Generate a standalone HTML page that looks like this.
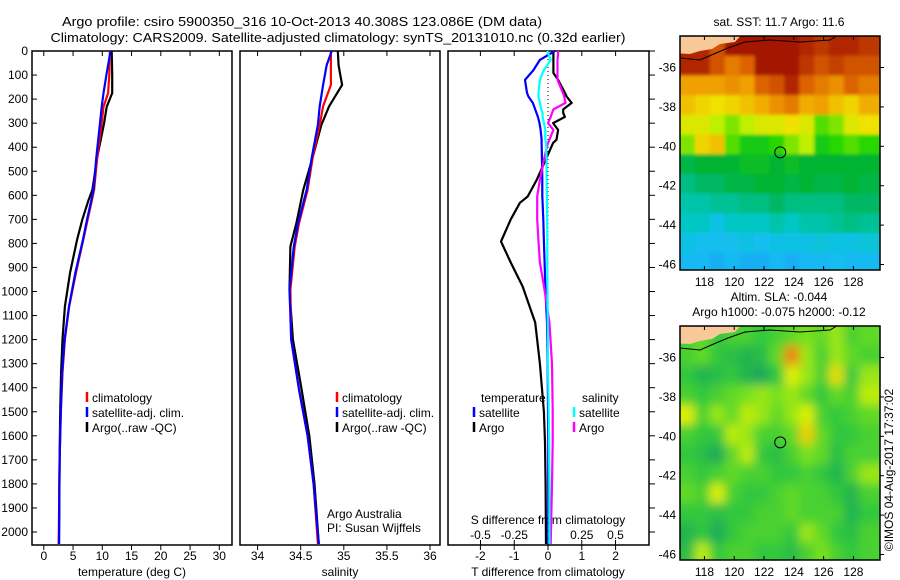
<!DOCTYPE html>
<html><head><meta charset="utf-8"><style>
html,body{margin:0;padding:0;background:#fff;}
svg{display:block;font-family:"Liberation Sans",sans-serif;}
text{font-size:12px;fill:#000;}
</style></head><body>
<svg id="c" width="900" height="580" viewBox="0 0 900 580" xmlns="http://www.w3.org/2000/svg">
<defs>
<clipPath id="cl1"><rect x="680" y="36" width="200" height="234"/></clipPath>
<clipPath id="cl2"><rect x="680" y="326" width="200" height="234"/></clipPath>
<filter id="bl" x="0" y="0" width="1" height="1"><feGaussianBlur stdDeviation="5"/></filter>
<filter id="bl1" x="0" y="0" width="1" height="1"><feGaussianBlur stdDeviation="1.5"/></filter>
</defs>
<text x="302" y="26" text-anchor="middle" textLength="480" lengthAdjust="spacingAndGlyphs" style="font-size:13px">Argo profile: csiro 5900350_316 10-Oct-2013 40.308S 123.086E (DM data)</text>
<text x="338" y="42" text-anchor="middle" textLength="575" lengthAdjust="spacingAndGlyphs" style="font-size:13px">Climatology: CARS2009. Satellite-adjusted climatology: synTS_20131010.nc (0.32d earlier)</text>
</svg>
<script>
// ---------- data ----------
const tDepth=[0,100,175,232,300,440,577,623,700,784,921,1062,1199,1336,1500,1700,2050];
const tArgo=[11.6,11.7,11.7,10.75,10.3,9.15,8.3,7.6,6.6,5.7,4.5,3.6,3.2,2.95,2.8,2.7,2.6];
const tClim=[11.3,11.2,11.0,10.2,9.9,9.15,8.6,8.2,7.5,6.75,5.5,4.35,3.6,3.2,2.9,2.7,2.55];
const tSat=[11.4,10.7,10.2,9.9,9.6,9.0,8.5,8.1,7.4,6.7,5.4,4.3,3.55,3.15,2.9,2.7,2.6];
const sDepth=[0,60,141,230,307,440,577,716,813,993,1199,1407,1600,1800,2050];
const sArgo=[34.93,34.94,34.98,34.83,34.74,34.64,34.53,34.45,34.38,34.37,34.41,34.51,34.6,34.66,34.71];
const sClim=[34.85,34.85,34.85,34.76,34.72,34.64,34.58,34.48,34.43,34.38,34.39,34.48,34.58,34.65,34.70];
const sSat=[34.86,34.80,34.76,34.72,34.70,34.63,34.57,34.47,34.42,34.37,34.39,34.48,34.58,34.65,34.71];
const dDepth=[0,37,79,91,120,174,189,216,243,258,274,300,328,369,382,440,535,605,631,700,792,880,979,1129,1300,1500,1627,1800,2050];
const dTArgo=[0.16,0.16,0.16,0.16,0.3,0.5,0.55,0.7,0.45,0.45,0.5,0.15,0.3,0.25,0.15,-0.03,-0.33,-0.6,-0.83,-1.1,-1.39,-1.1,-0.75,-0.38,-0.24,-0.12,-0.09,-0.07,-0.06];
const dTSat=[0.2,-0.24,-0.43,-0.5,-0.68,-0.62,-0.58,-0.45,-0.38,-0.34,-0.3,-0.25,-0.22,-0.19,-0.19,-0.18,-0.17,-0.17,-0.16,-0.14,-0.12,-0.1,-0.08,-0.03,-0.01,0.0,0.01,0.01,0.01];
const dSSat=[-0.005,0.02,-0.03,-0.04,-0.06,-0.07,-0.07,-0.06,-0.05,-0.04,-0.04,-0.03,-0.02,-0.02,-0.015,-0.01,-0.01,-0.008,-0.008,-0.006,-0.005,-0.005,-0.004,-0.002,0.0,0.005,0.008,0.01,0.01];
const dSArgo=[0.076,0.07,0.07,0.07,0.07,0.11,0.12,0.13,0.04,0.03,0.02,0.0,0.04,0.01,0.0,-0.025,-0.06,-0.08,-0.08,-0.08,-0.07,-0.06,-0.03,0.01,0.03,0.035,0.035,0.03,0.02];
const depthTicks=[0,100,200,300,400,500,600,700,800,900,1000,1100,1200,1300,1400,1500,1600,1700,1800,1900,2000];
const tTicks=[0,5,10,15,20,25,30];
const sTicks=[34,34.5,35,35.5,36];
const sTickLabels=["34","34.5","35","35.5","36"];
const dtTicks=[-2,-1,0,1,2];
const dsTicks=[-0.5,-0.25,0,0.25,0.5];
const dsTickLabels=["-0.5","-0.25","0","0.25","0.5"];
const lonTicks=[118,120,122,124,126,128];
const latTicks=[-36,-38,-40,-42,-44,-46];
const L=null;
const sstGrid=[
[L,L,L,0.97,0.97,0.97,0.97,0.97,0.95,0.93,0.95,0.95,0.93],
[0.95,0.95,0.9,0.85,0.88,0.97,0.97,0.97,0.93,0.9,0.92,0.9,0.9],
[0.8,0.8,0.8,0.82,0.8,0.88,0.9,0.95,0.88,0.85,0.82,0.88,0.85],
[0.75,0.72,0.7,0.72,0.75,0.78,0.82,0.85,0.78,0.8,0.75,0.72,0.78],
[0.68,0.68,0.65,0.62,0.65,0.68,0.68,0.7,0.68,0.6,0.62,0.68,0.7],
[0.62,0.72,0.75,0.6,0.55,0.55,0.58,0.62,0.65,0.55,0.58,0.6,0.58],
[0.48,0.5,0.5,0.5,0.52,0.52,0.5,0.52,0.5,0.5,0.5,0.5,0.5],
[0.42,0.45,0.45,0.48,0.48,0.5,0.5,0.48,0.5,0.48,0.48,0.5,0.48],
[0.38,0.38,0.4,0.4,0.42,0.42,0.45,0.42,0.42,0.42,0.42,0.45,0.45],
[0.35,0.35,0.3,0.35,0.35,0.35,0.38,0.35,0.38,0.38,0.4,0.42,0.4],
[0.3,0.28,0.28,0.28,0.3,0.28,0.3,0.3,0.3,0.32,0.3,0.3,0.32],
[0.27,0.27,0.25,0.27,0.25,0.25,0.27,0.25,0.27,0.27,0.28,0.27,0.27]];
const slaGrid=[
[L,L,L,0.45,0.45,0.4,0.45,0.5,0.55,0.5,0.6,0.45,0.5],
[0.45,0.5,0.4,0.35,0.3,0.35,0.5,0.95,0.6,0.45,0.6,0.5,0.45],
[0.4,0.3,0.35,0.4,0.3,0.25,0.4,0.7,0.6,0.45,0.75,0.4,0.6],
[0.45,0.4,0.45,0.5,0.55,0.6,0.55,0.6,0.5,0.4,0.5,0.45,0.65],
[0.7,0.45,0.6,0.5,0.65,0.6,0.5,0.6,0.7,0.45,0.4,0.45,0.5],
[0.45,0.4,0.4,0.65,0.6,0.45,0.45,0.5,0.8,0.5,0.4,0.4,0.45],
[0.4,0.35,0.25,0.5,0.65,0.4,0.35,0.45,0.55,0.5,0.35,0.45,0.45],
[0.45,0.4,0.45,0.5,0.45,0.45,0.4,0.4,0.45,0.4,0.3,0.45,0.6],
[0.5,0.45,0.7,0.45,0.4,0.4,0.45,0.5,0.45,0.45,0.4,0.3,0.45],
[0.4,0.4,0.35,0.4,0.4,0.45,0.45,0.5,0.45,0.45,0.45,0.3,0.4],
[0.3,0.4,0.25,0.4,0.45,0.45,0.45,0.4,0.6,0.5,0.4,0.35,0.45],
[0.35,0.65,0.4,0.45,0.45,0.4,0.4,0.35,0.45,0.55,0.45,0.4,0.45]];
const argoLon=123.086, argoLat=-40.308;

// ---------- helpers ----------
const svg=document.getElementById('c');
const NS='http://www.w3.org/2000/svg';
function mk(tag,attrs,parent){const e=document.createElementNS(NS,tag);for(const k in attrs)e.setAttribute(k,attrs[k]);(parent||svg).appendChild(e);return e;}
function txt(x,y,s,anchor,parent){const t=mk('text',{x:x,y:y,'text-anchor':anchor||'start'},parent);t.textContent=s;return t;}
const PT=51,PB=545;
const yD=d=>51+d*0.2405;
const P1={l:32,r:232}, P2={l:240,r:440}, P3={l:448,r:649};
const xT=t=>43.8+t*5.85;
const xS=s=>257.6+(s-34)*86.2;
const xDT=v=>548+v*33.8;
const xDS=v=>548+v*135;

function frame(p,name){
  const r=mk('rect',{x:p.l,y:PT,width:p.r-p.l,height:PB-PT,fill:'none',stroke:'#000','stroke-width':1.5});
  
  
}
function line(depths,vals,xf,color,w,name){
  const pts=depths.map((d,i)=>xf(vals[i]).toFixed(1)+','+yD(Math.min(d,2054)).toFixed(1)).join(' ');
  const pl=mk('polyline',{points:pts,fill:'none',stroke:color,'stroke-width':w,'stroke-linejoin':'round'});
  
  
}
function xticks(p,ticks,labels,xf,y,top){
  ticks.forEach((t,i)=>{
    const x=xf(t);
    mk('line',{x1:x,y1:PB,x2:x,y2:PB+5,stroke:'#000'});
    if(top) mk('line',{x1:x,y1:PT,x2:x,y2:PT+5,stroke:'#000'});
    const tx=txt(x,y,labels?labels[i]:String(t),'middle');
    
    
  });
}
function legend(x,y,color,label){
  mk('line',{x1:x,y1:y-10,x2:x,y2:y,stroke:color,'stroke-width':2.5});
  const t=txt(x+5,y,label);
  
  
}

// ---------- panels ----------
frame(P1,'temperature-panel');frame(P2,'salinity-panel');frame(P3,'difference-panel');
depthTicks.forEach(d=>{
  const y=yD(d);
  mk('line',{x1:P1.l,y1:y,x2:P1.l+5,y2:y,stroke:'#000'});
  mk('line',{x1:P3.r,y1:y,x2:P3.r+6,y2:y,stroke:'#000'});
  const t=txt(28,y+4,String(d),'end');
  
  
});
xticks(P1,tTicks,null,xT,560,true);
xticks(P2,sTicks,sTickLabels,xS,560,true);
xticks(P3,dtTicks,null,xDT,560,true);
dsTicks.forEach((v,i)=>{
  const x=xDS(v);
  mk('line',{x1:x,y1:PB,x2:x,y2:PB-5,stroke:'#000'});
  const t=txt(x,539,dsTickLabels[i],'middle');
  
  
});
[['temperature (deg C)',132,'temperature-axis-title'],['salinity',340,'salinity-axis-title'],['T difference from climatology',548,'t-diff-axis-title']].forEach(a=>{
  const t=txt(a[1],576,a[0],'middle');
  
  
});
const sdt=txt(548,524,'S difference from climatology','middle');


mk('line',{x1:xDT(0),y1:PT,x2:xDT(0),y2:PB,stroke:'#000','stroke-dasharray':'1,3'});

line(tDepth,tArgo,xT,'#000',2.2,'temp-argo-line');
line(tDepth,tClim,xT,'#f00',2.2,'temp-climatology-line');
line(tDepth,tSat,xT,'#00f',2.2,'temp-satellite-line');
line(sDepth,sArgo,xS,'#000',2.2,'sal-argo-line');
line(sDepth,sClim,xS,'#f00',2.2,'sal-climatology-line');
line(sDepth,sSat,xS,'#00f',2.2,'sal-satellite-line');
line(dDepth,dTArgo,xDT,'#000',2.2,'tdiff-argo-line');
line(dDepth,dTSat,xDT,'#00f',2.2,'tdiff-satellite-line');
line(dDepth,dSArgo,xDS,'#f0f',2.2,'sdiff-argo-line');
line(dDepth,dSSat,xDS,'#0ff',2.2,'sdiff-satellite-line');

legend(87,402,'#f00','climatology');legend(87,417,'#00f','satellite-adj. clim.');legend(87,432,'#000','Argo(..raw -QC)');
legend(337,402,'#f00','climatology');legend(337,417,'#00f','satellite-adj. clim.');legend(337,432,'#000','Argo(..raw -QC)');
let t1=txt(481,402,'temperature');
let t2=txt(582,402,'salinity');
legend(474,417,'#00f','satellite');legend(474,432,'#000','Argo');
legend(574,417,'#0ff','satellite');legend(574,432,'#f0f','Argo');
let a1=txt(327,518,'Argo Australia');
let a2=txt(327,532,'PI: Susan Wijffels');

// ---------- maps ----------
function cmap(stops,v){
  for(let i=1;i<stops.length;i++){ if(v<=stops[i][0]||i==stops.length-1){
    const a=stops[i-1],b=stops[i];let f=(v-a[0])/(b[0]-a[0]);f=Math.max(0,Math.min(1,f));
    const c=a[1].map((x,k)=>Math.round(x+(b[1][k]-x)*f));return 'rgb('+c.join(',')+')';}}
}
const sstStops=[[0.2,[20,150,250]],[0.28,[20,190,240]],[0.36,[0,200,190]],[0.44,[0,185,110]],[0.5,[0,180,50]],[0.58,[40,215,0]],[0.65,[190,240,0]],[0.7,[240,225,0]],[0.8,[240,160,0]],[0.88,[220,100,0]],[0.97,[165,20,0]]];
const slaStops=[[0.2,[20,160,100]],[0.4,[50,200,60]],[0.55,[120,225,30]],[0.7,[220,240,0]],[0.85,[240,190,0]],[0.95,[240,130,20]]];
function mapPanel(top,grid,stops,name,clipId,blur){
  const lon0=116.36, lat0=-34.4, px=14.9, py=19.7;
  const X=lo=>680+(lo-lon0)*px, Y=la=>top+(lat0-la)*py;
  const g=mk('g',{'clip-path':'url(#'+clipId+')'});
  
  
  const gi=mk('g',{filter:'url(#'+blur+')'},g);
  grid.forEach((row,r)=>row.forEach((v,c)=>{
    const last=c==row.length-1, lastR=r==grid.length-1;
    const fill=v===null?cmap(stops,grid[r+1][c]):cmap(stops,v);
    const cell=mk('rect',{x:(X(lon0+c)-(c==0?12:0)).toFixed(1),y:(Y(lat0-r)-(r==0?12:0)).toFixed(1),width:px+0.6+(last?14:0)+(c==0?12:0),height:py+0.6+(lastR?14:0)+(r==0?12:0),fill:fill},gi);
    
    
  }));
  const land=mk('path',{d:`M670 ${top-5} L745 ${top-5} L735 ${top+6} L720 ${top+8} L712 ${top+13} L700 ${top+15} L690 ${top+18} L670 ${top+17} Z`,fill:'#f8c898'},g);
  
  
  const coast=mk('path',{d:`M680 ${top+22} L700 ${top+24} L716 ${top+17} L728 ${top+12} L745 ${top+6} L770 ${top+4} L800 ${top+6} L830 ${top+4} L840 ${top-2}`,fill:'none',stroke:'#000','stroke-width':1},g);
  
  
  const b=mk('rect',{x:680,y:top,width:200,height:234,fill:'none',stroke:'#000','stroke-width':1.5});
  
  
  const circ=mk('circle',{cx:X(argoLon),cy:Y(argoLat),r:5.5,fill:'none',stroke:'#000','stroke-width':1});
  
  
  lonTicks.forEach(lo=>{const x=X(lo);
    mk('line',{x1:x,y1:top,x2:x,y2:top+4,stroke:'#000'});mk('line',{x1:x,y1:top+234,x2:x,y2:top+230,stroke:'#000'});
    const t=txt(x,top+250,String(lo),'middle');});
  latTicks.forEach(la=>{const y=Y(la);
    mk('line',{x1:880,y1:y,x2:884,y2:y,stroke:'#000'});
    const t=txt(676,y+4,String(la),'end');});
}
mapPanel(36,sstGrid,sstStops,'sst-map','cl1','bl1');
mapPanel(326,slaGrid,slaStops,'sla-map','cl2','bl');
let m1=txt(779,26,'sat. SST: 11.7 Argo: 11.6','middle');
let m2=txt(779,301,'Altim. SLA: -0.044','middle');
let m3=txt(779,316,'Argo h1000: -0.075 h2000: -0.12','middle');
let cr=txt(0,0,'©IMOS 04-Aug-2017 17:37:02','middle');cr.setAttribute('transform','translate(893,470) rotate(-90)');

</script>
</body></html>
